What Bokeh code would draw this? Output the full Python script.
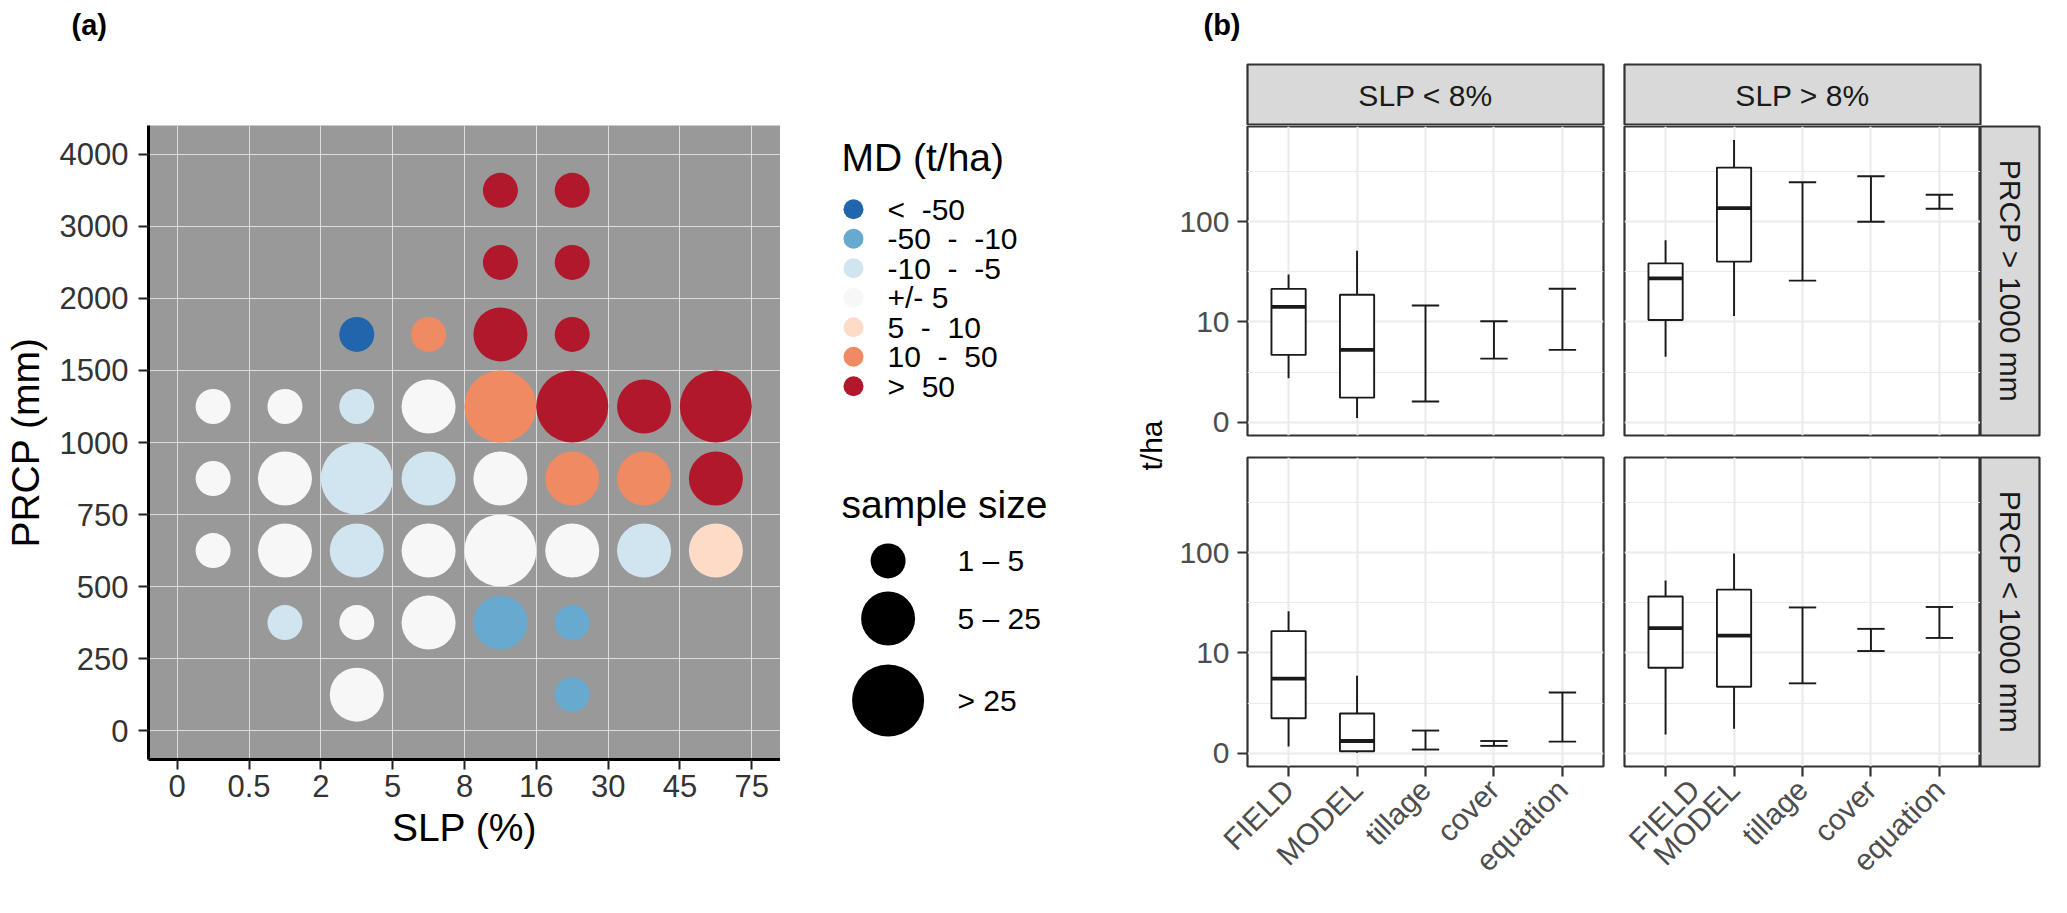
import math
from bokeh.plotting import figure
from bokeh.models import Range1d, FactorRange, FixedTicker, CustomJSTickFormatter, ColumnDataSource, Spacer
from bokeh.layouts import row, column
from bokeh.transform import dodge
from bokeh.core.properties import value
from bokeh.embed import file_html
from bokeh.resources import INLINE

FONT = "Liberation Sans"

# ---------------- data: panel (a) ----------------
slp_ticks = ["0", "0.5", "2", "5", "8", "16", "30", "45", "75"]
prcp_ticks = ["0", "250", "500", "750", "1000", "1500", "2000", "3000", "4000"]
md_labels = ["<\u00a0 -50", "-50\u00a0 -\u00a0 -10", "-10\u00a0 -\u00a0 -5", "+/- 5",
             "5\u00a0 -\u00a0 10", "10\u00a0 -\u00a0 50", ">\u00a0 50"]
md_colors = ["#2166AC", "#67A9CF", "#D1E5F0", "#F7F7F7", "#FDDBC7", "#EF8A62", "#B2182B"]
size_labels = ["1 \u2013 5", "5 \u2013 25", "> 25"]

slp_bin  = [4, 5,  4, 5,  2, 3, 4, 5,  0, 1, 2, 3, 4, 5, 6, 7,  0, 1, 2, 3, 4, 5, 6, 7,
            0, 1, 2, 3, 4, 5, 6, 7,  1, 2, 3, 4, 5,  2, 5]
prcp_bin = [7, 7,  6, 6,  5, 5, 5, 5,  4, 4, 4, 4, 4, 4, 4, 4,  3, 3, 3, 3, 3, 3, 3, 3,
            2, 2, 2, 2, 2, 2, 2, 2,  1, 1, 1, 1, 1,  0, 0]
md_class = [6, 6,  6, 6,  0, 5, 6, 6,  3, 3, 2, 3, 5, 6, 6, 6,  3, 3, 2, 2, 3, 5, 5, 6,
            3, 3, 2, 3, 3, 3, 2, 4,  2, 3, 3, 1, 1,  3, 1]
n_class  = [0, 0,  0, 0,  0, 0, 1, 0,  0, 0, 0, 1, 2, 2, 1, 2,  0, 1, 2, 1, 1, 1, 1, 1,
            0, 1, 1, 1, 2, 1, 1, 1,  0, 0, 1, 1, 0,  1, 0]

# ---------------- data: panel (b) ----------------
methods = ["FIELD", "MODEL", "tillage", "cover", "equation"]
slp_groups = ["SLP < 8%", "SLP > 8%"]
prcp_groups = ["PRCP > 1000 mm", "PRCP < 1000 mm"]
# boxes (FIELD, MODEL): min, q1, median, q3, max  [t/ha]
box_lt8_wet = [[2.4, 4.5, 14.1, 21.4, 29.8], [0.2, 1.2, 5.1, 18.7, 51.5]]
box_gt8_wet = [[4.3, 10.4, 27.3, 38.5, 65.3], [11.4, 40.1, 137.0, 347.0, 653.0]]
box_lt8_dry = [[0.32, 1.8, 5.4, 16.5, 26.1], [0.03, 0.10, 0.58, 2.1, 5.8]]
box_gt8_dry = [[0.9, 7.0, 17.7, 36.6, 52.9], [1.2, 4.4, 14.9, 42.9, 98.4]]
# ranges (tillage, cover, equation): min, max  [t/ha]
rng_lt8_wet = [[1.0, 14.6], [4.1, 10.1], [5.1, 21.5]]
rng_gt8_wet = [[25.9, 248.0], [100.0, 285.0], [135.0, 186.0]]
rng_lt8_dry = [[0.18, 1.1], [0.35, 0.58], [0.55, 3.8]]
rng_gt8_dry = [[4.8, 28.5], [10.4, 17.4], [14.1, 28.8]]

SIZES = [35, 54, 72]
AX_TXT = "#333333"


def T(v):
    # pseudo-log (asinh) transform, base 10, sigma 1
    return math.asinh(v / 2.0) / math.log(10)


# ---------------- header ----------------
HEADER_H = 62
MAIN_H = 833
hdr = figure(width=2041, height=HEADER_H, x_range=Range1d(0, 2041), y_range=Range1d(HEADER_H, 0),
             x_axis_type=None, y_axis_type=None, toolbar_location=None, output_backend="svg",
             min_border=0, outline_line_color=None)
hdr.grid.visible = False
hdr.text(x=[71, 1203], y=[24, 24], text=["(a)", "(b)"], text_font=value(FONT), text_font_size="29px",
         text_font_style="bold", text_align="left", text_baseline="middle", text_color="black")

# ---------------- panel (a) ----------------
pa = figure(width=780, height=MAIN_H, x_range=Range1d(-0.4, 8.4), y_range=Range1d(-0.4, 8.4),
            output_backend="svg", toolbar_location=None,
            min_border_left=146, min_border_right=0, min_border_top=63, min_border_bottom=136)
pa.background_fill_color = "#999999"
pa.outline_line_color = None
pa.xaxis.ticker = FixedTicker(ticks=list(range(len(slp_ticks))))
pa.yaxis.ticker = FixedTicker(ticks=list(range(len(prcp_ticks))))
pa.xaxis.major_label_overrides = {i: s for i, s in enumerate(slp_ticks)}
pa.yaxis.major_label_overrides = {i: s for i, s in enumerate(prcp_ticks)}
for g in (pa.xgrid, pa.ygrid):
    g.bounds = (0, 8)
    g.grid_line_color = "#DCDCDC"
    g.grid_line_width = 1
for ax in (pa.xaxis, pa.yaxis):
    ax.axis_line_color = "black"
    ax.axis_line_width = 3
    ax.major_tick_line_color = "#222222"
    ax.major_tick_line_width = 2
    ax.major_tick_out = 10
    ax.major_tick_in = 0
    ax.minor_tick_line_color = None
    ax.major_label_text_font = FONT
    ax.major_label_text_font_size = "31px"
    ax.major_label_text_color = AX_TXT
    ax.axis_label_text_font = FONT
    ax.axis_label_text_font_size = "39px"
    ax.axis_label_text_font_style = "normal"
    ax.axis_label_text_color = "black"
pa.xaxis.axis_label = "SLP (%)"
pa.yaxis.axis_label = "PRCP (mm)"
pa.xaxis.major_label_standoff = 5
pa.yaxis.major_label_standoff = 10
pa.xaxis.axis_label_standoff = 6
pa.yaxis.axis_label_standoff = 10

src_a = ColumnDataSource(dict(
    x=[b + 0.5 for b in slp_bin],
    y=[b + 0.5 for b in prcp_bin],
    color=[md_colors[c] for c in md_class],
    size=[SIZES[k] for k in n_class],
))
pa.scatter("x", "y", size="size", fill_color="color", line_color=None, source=src_a)

# ---------------- legends + y title of (b) ----------------
# this plot shares its frame rows with panel (a): frame spans page y 133..767
pl = figure(width=390, height=MAIN_H, x_range=Range1d(0, 390), y_range=Range1d(767, 133),
            x_axis_type=None, y_axis_type=None, toolbar_location=None, output_backend="svg",
            min_border=0, outline_line_color=None)
pl.grid.visible = False
pl.text(x=[61], y=[165], text=["MD (t/ha)"], text_font=value(FONT), text_font_size="39px",
        text_align="left", text_baseline="middle", text_color="black")
ly = [216.7 + 29.5 * i for i in range(len(md_labels))]
pl.scatter(x=[73] * len(md_labels), y=ly, size=20, fill_color=md_colors, line_color=None)
pl.text(x=[107] * len(md_labels), y=ly, text=md_labels, text_font=value(FONT), text_font_size="30px",
        text_align="left", text_baseline="middle", text_color="black")
pl.text(x=[61], y=[511.8], text=["sample size"], text_font=value(FONT), text_font_size="39px",
        text_align="left", text_baseline="middle", text_color="black")
sy = [568.4, 626, 708]
pl.scatter(x=[107.6] * 3, y=sy, size=SIZES, fill_color="black", line_color=None)
pl.text(x=[177] * 3, y=sy, text=size_labels, text_font=value(FONT), text_font_size="30px",
        text_align="left", text_baseline="middle", text_color="black")
pl.text(x=[370.6], y=[453], text=["t/ha"], angle=math.pi / 2, text_font=value(FONT), text_font_size="30px",
        text_align="center", text_baseline="middle", text_color="black")

# ---------------- panel (b) facets ----------------
YT = FixedTicker(ticks=[T(0), T(10), T(100)],
                 minor_ticks=[(T(0) + T(10)) / 2, (T(10) + T(100)) / 2, T(100) + (T(100) - T(10)) / 2])
LC = "#1A1A1A"
LW = 1.9
BORDER = "#333333"


def facet(box, rng, left_axis, bottom_axis, width, height, bl, br, bt, bb):
    p = figure(width=width, height=height,
               x_range=FactorRange(factors=methods, range_padding=0.1, range_padding_units="absolute"),
               y_range=Range1d(-0.13, 2.95), output_backend="svg", toolbar_location=None,
               x_axis_location="below" if bottom_axis else None,
               y_axis_location="left" if left_axis else None,
               min_border_left=bl, min_border_right=br, min_border_top=bt, min_border_bottom=bb)
    p.background_fill_color = "white"
    p.outline_line_color = BORDER
    p.outline_line_width = 2.2
    for g in p.ygrid:
        g.axis.ticker = YT
        g.grid_line_color = "#EBEBEB"
        g.grid_line_width = 2.2
        g.minor_grid_line_color = "#EBEBEB"
        g.minor_grid_line_width = 1.1
    p.xgrid.grid_line_color = "#EBEBEB"
    p.xgrid.grid_line_width = 2.2
    axes = []
    if left_axis:
        p.yaxis.formatter = CustomJSTickFormatter(code="return Math.round(2*Math.sinh(tick*Math.LN10)).toString();")
        axes.append(p.yaxis)
    if bottom_axis:
        p.xaxis.major_label_orientation = math.pi / 4
        axes.append(p.xaxis)
    for ax in axes:
        ax.axis_line_color = None
        ax.major_tick_line_color = "#333333"
        ax.major_tick_line_width = 2.2
        ax.major_tick_out = 10
        ax.major_tick_in = 0
        ax.minor_tick_line_color = None
        ax.major_label_text_font = FONT
        ax.major_label_text_font_size = "30px"
        ax.major_label_text_color = "#4D4D4D"
        ax.major_label_standoff = 8

    bx = methods[:2]
    src = ColumnDataSource(dict(x=bx,
                                lo=[T(b[0]) for b in box], q1=[T(b[1]) for b in box],
                                med=[T(b[2]) for b in box], q3=[T(b[3]) for b in box],
                                hi=[T(b[4]) for b in box]))
    p.segment(x0="x", y0="lo", x1="x", y1="q1", line_color=LC, line_width=LW, source=src)
    p.segment(x0="x", y0="q3", x1="x", y1="hi", line_color=LC, line_width=LW, source=src)
    p.vbar(x="x", width=0.5, bottom="q1", top="q3", fill_color="white", line_color=LC,
           line_width=LW, source=src)
    p.segment(x0=dodge("x", -0.25, range=p.x_range), y0="med", x1=dodge("x", 0.25, range=p.x_range),
              y1="med", line_color=LC, line_width=LW * 2, source=src)

    src2 = ColumnDataSource(dict(x=methods[2:], lo=[T(r[0]) for r in rng], hi=[T(r[1]) for r in rng]))
    p.segment(x0="x", y0="lo", x1="x", y1="hi", line_color=LC, line_width=LW, source=src2)
    for k in ("lo", "hi"):
        p.segment(x0=dodge("x", -0.2, range=p.x_range), y0=k, x1=dodge("x", 0.2, range=p.x_range),
                  y1=k, line_color=LC, line_width=LW, source=src2)
    return p


def strip(text, width, height, angle, bl, br, bt, bb):
    s = figure(width=width, height=height, x_range=Range1d(0, 1), y_range=Range1d(0, 1),
               x_axis_type=None, y_axis_type=None, toolbar_location=None, output_backend="svg",
               min_border_left=bl, min_border_right=br, min_border_top=bt, min_border_bottom=bb)
    s.grid.visible = False
    s.background_fill_color = "#D9D9D9"
    s.outline_line_color = BORDER
    s.outline_line_width = 2.2
    s.text(x=[0.5], y=[0.5], text=[text], angle=angle, text_font=value(FONT), text_font_size="30px",
           text_align="center", text_baseline="middle", text_color="#1A1A1A")
    return s


st_tl = strip(slp_groups[0], 360, 63, 0, 2, 2, 2, 0)
st_tr = strip(slp_groups[1], 360, 63, 0, 2, 2, 2, 0)
p_tl = facet(box_lt8_wet, rng_lt8_wet, True, False, 435, 312, 77, 2, 0, 2)
p_tr = facet(box_gt8_wet, rng_gt8_wet, False, False, 358, 312, 2, 0, 0, 2)
rs_t = strip(prcp_groups[0], 61, 312, -math.pi / 2, 0, 2, 1, 2)
p_bl = facet(box_lt8_dry, rng_lt8_dry, True, True, 435, 440, 77, 2, 2, 129)
p_br = facet(box_gt8_dry, rng_gt8_dry, False, True, 358, 440, 2, 0, 2, 129)
rs_b = strip(prcp_groups[1], 61, 440, -math.pi / 2, 0, 2, 2, 129)

strip_row = row(Spacer(width=75, height=63), st_tl, Spacer(width=17, height=63), st_tr,
                Spacer(width=59, height=63))
top_row = row(p_tl, Spacer(width=17, height=312), p_tr, rs_t)
bot_row = row(p_bl, Spacer(width=17, height=440), p_br, rs_b)
col_b = column(strip_row, top_row, Spacer(width=871, height=18), bot_row)

page = column(hdr, row(pa, pl, col_b))

open("out.html", "w").write(file_html(page, INLINE))
